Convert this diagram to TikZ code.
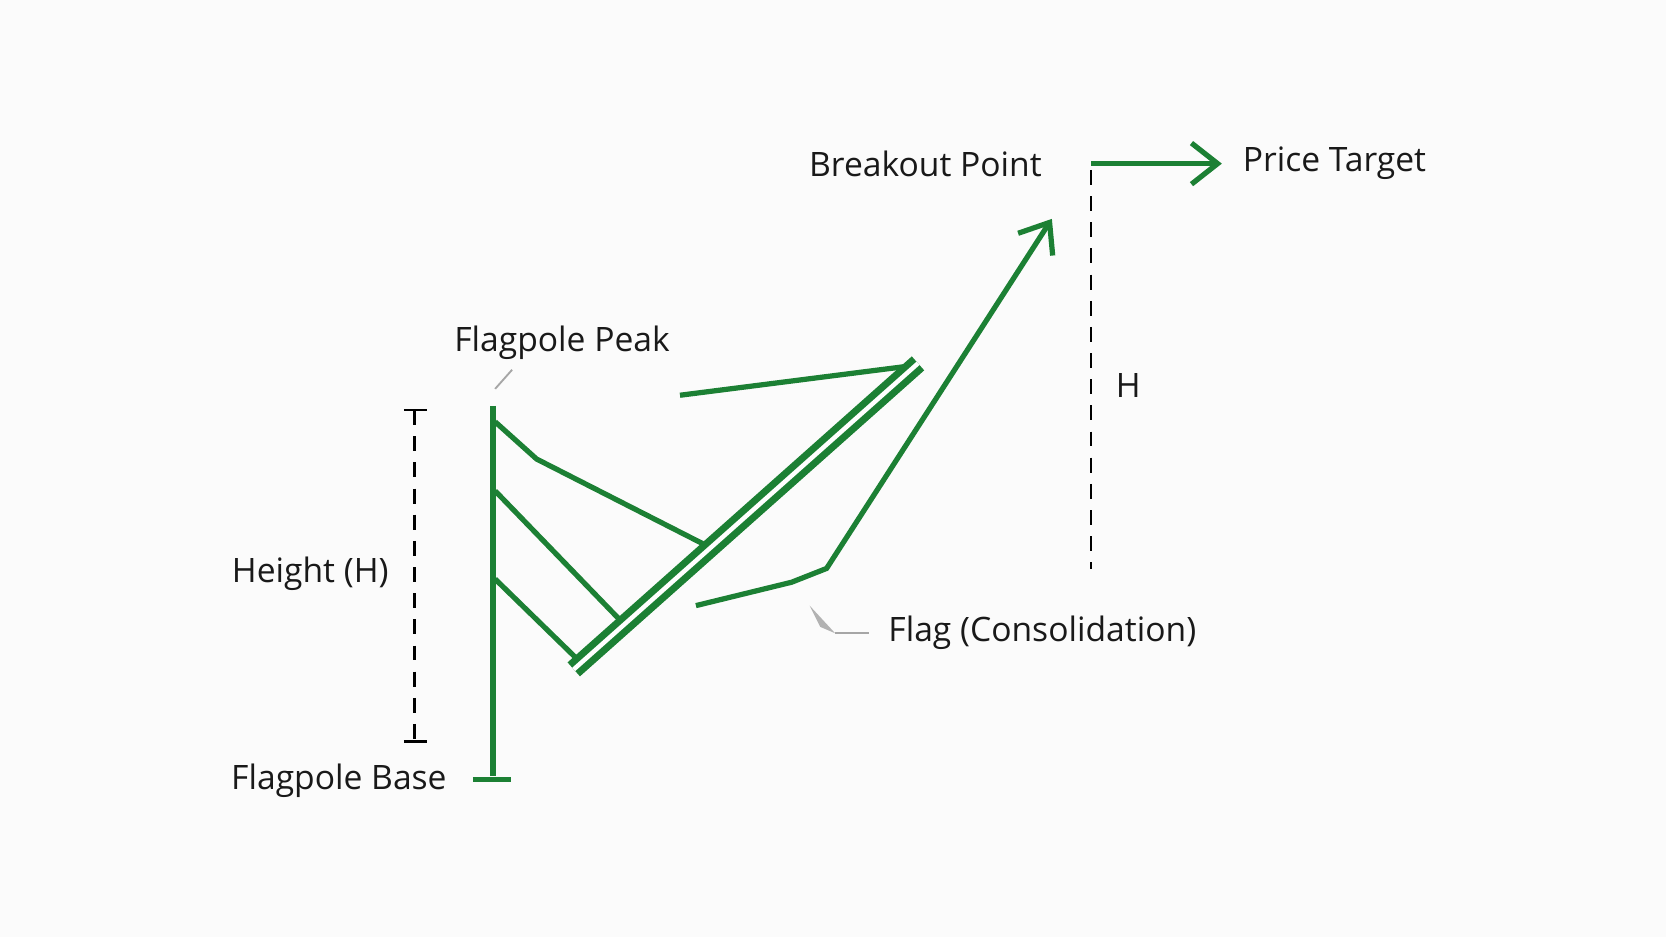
\documentclass[tikz,border=0pt]{standalone}
\usepackage{fontspec}
\setmainfont{Open Sans}
\usetikzlibrary{arrows.meta}
\definecolor{gr}{RGB}{28,128,52}
\begin{document}
\begin{tikzpicture}[x=0.01cm,y=-0.01cm,
 g/.style={draw=gr,line width=1.4pt},
 lab/.style={font=\fontsize{9}{11}\selectfont,text=black!90},
 dsh/.style={draw=black,line width=0.7pt,dash pattern=on 4pt off 3pt},
 ptr/.style={draw=gray!70,line width=0.5pt}]
\fill[white!97!gray] (0,0) rectangle (1568,882);
\useasboundingbox (0,0) rectangle (1568,882);
% flagpole
\coordinate (pt) at (464,382); \coordinate (pb) at (464,730);
\draw[g] (pt) -- (pb);
\coordinate (b1) at (445,734); \coordinate (b2) at (481,734);
\draw[g] (b1) -- (b2);
% height dashed
\coordinate (h1) at (390,386); \coordinate (h2) at (390,698);
\draw[dsh] (h1) -- (h2);
\draw[black,line width=0.7pt] (380,386) -- (402,386) (380,698) -- (402,698);
% flag lines
\draw[g] (466,397) -- (505,432) -- (662,512);
\draw[g] (466,462) -- (583,583);
\draw[g] (466,545) -- (547,624);
\coordinate (d1) at (540,630); \coordinate (d2) at (864,342);
\draw[gr,line width=5pt] (d1) -- (d2);
\draw[white,line width=1.2pt] (d1) -- (d2);
\draw[g] (640,372) -- (852,345);
% breakout path
\coordinate (bk) at (990,206);
\draw[g,-{Straight Barb[length=7pt,width=11pt]}] (655,570) -- (745,548) -- (778,535) -- (bk);
% price target
\coordinate (t1) at (1027,154); \coordinate (t2) at (1150,154);
\draw[g,-{Straight Barb[length=7pt,width=11pt]}] (t1) -- (t2);
\coordinate (v1) at (1027,160); \coordinate (v2) at (1027,536);
\draw[dsh] (v1) -- (v2);
% labels
\node[lab] (bp) at (871,154) {Breakout Point};
\node[lab] (ptg) at (1256,154) {Price Target};
\node[lab] (fp) at (529,323) {Flagpole Peak};
\node[lab] (hh) at (1062,363) {H};
\node[lab] (ht) at (292,540) {Height (H)};
\node[lab] (fc) at (981,596) {Flag (Consolidation)};
\node[lab] (fb) at (319,735) {Flagpole Base};
% pointers
\draw[ptr] (482,348) -- (466,366);
\fill[gray!60] (762,570) -- (772,590) -- (786,596) -- cycle;
\draw[ptr] (786,596) -- (818,596);
\end{tikzpicture}
\end{document}
